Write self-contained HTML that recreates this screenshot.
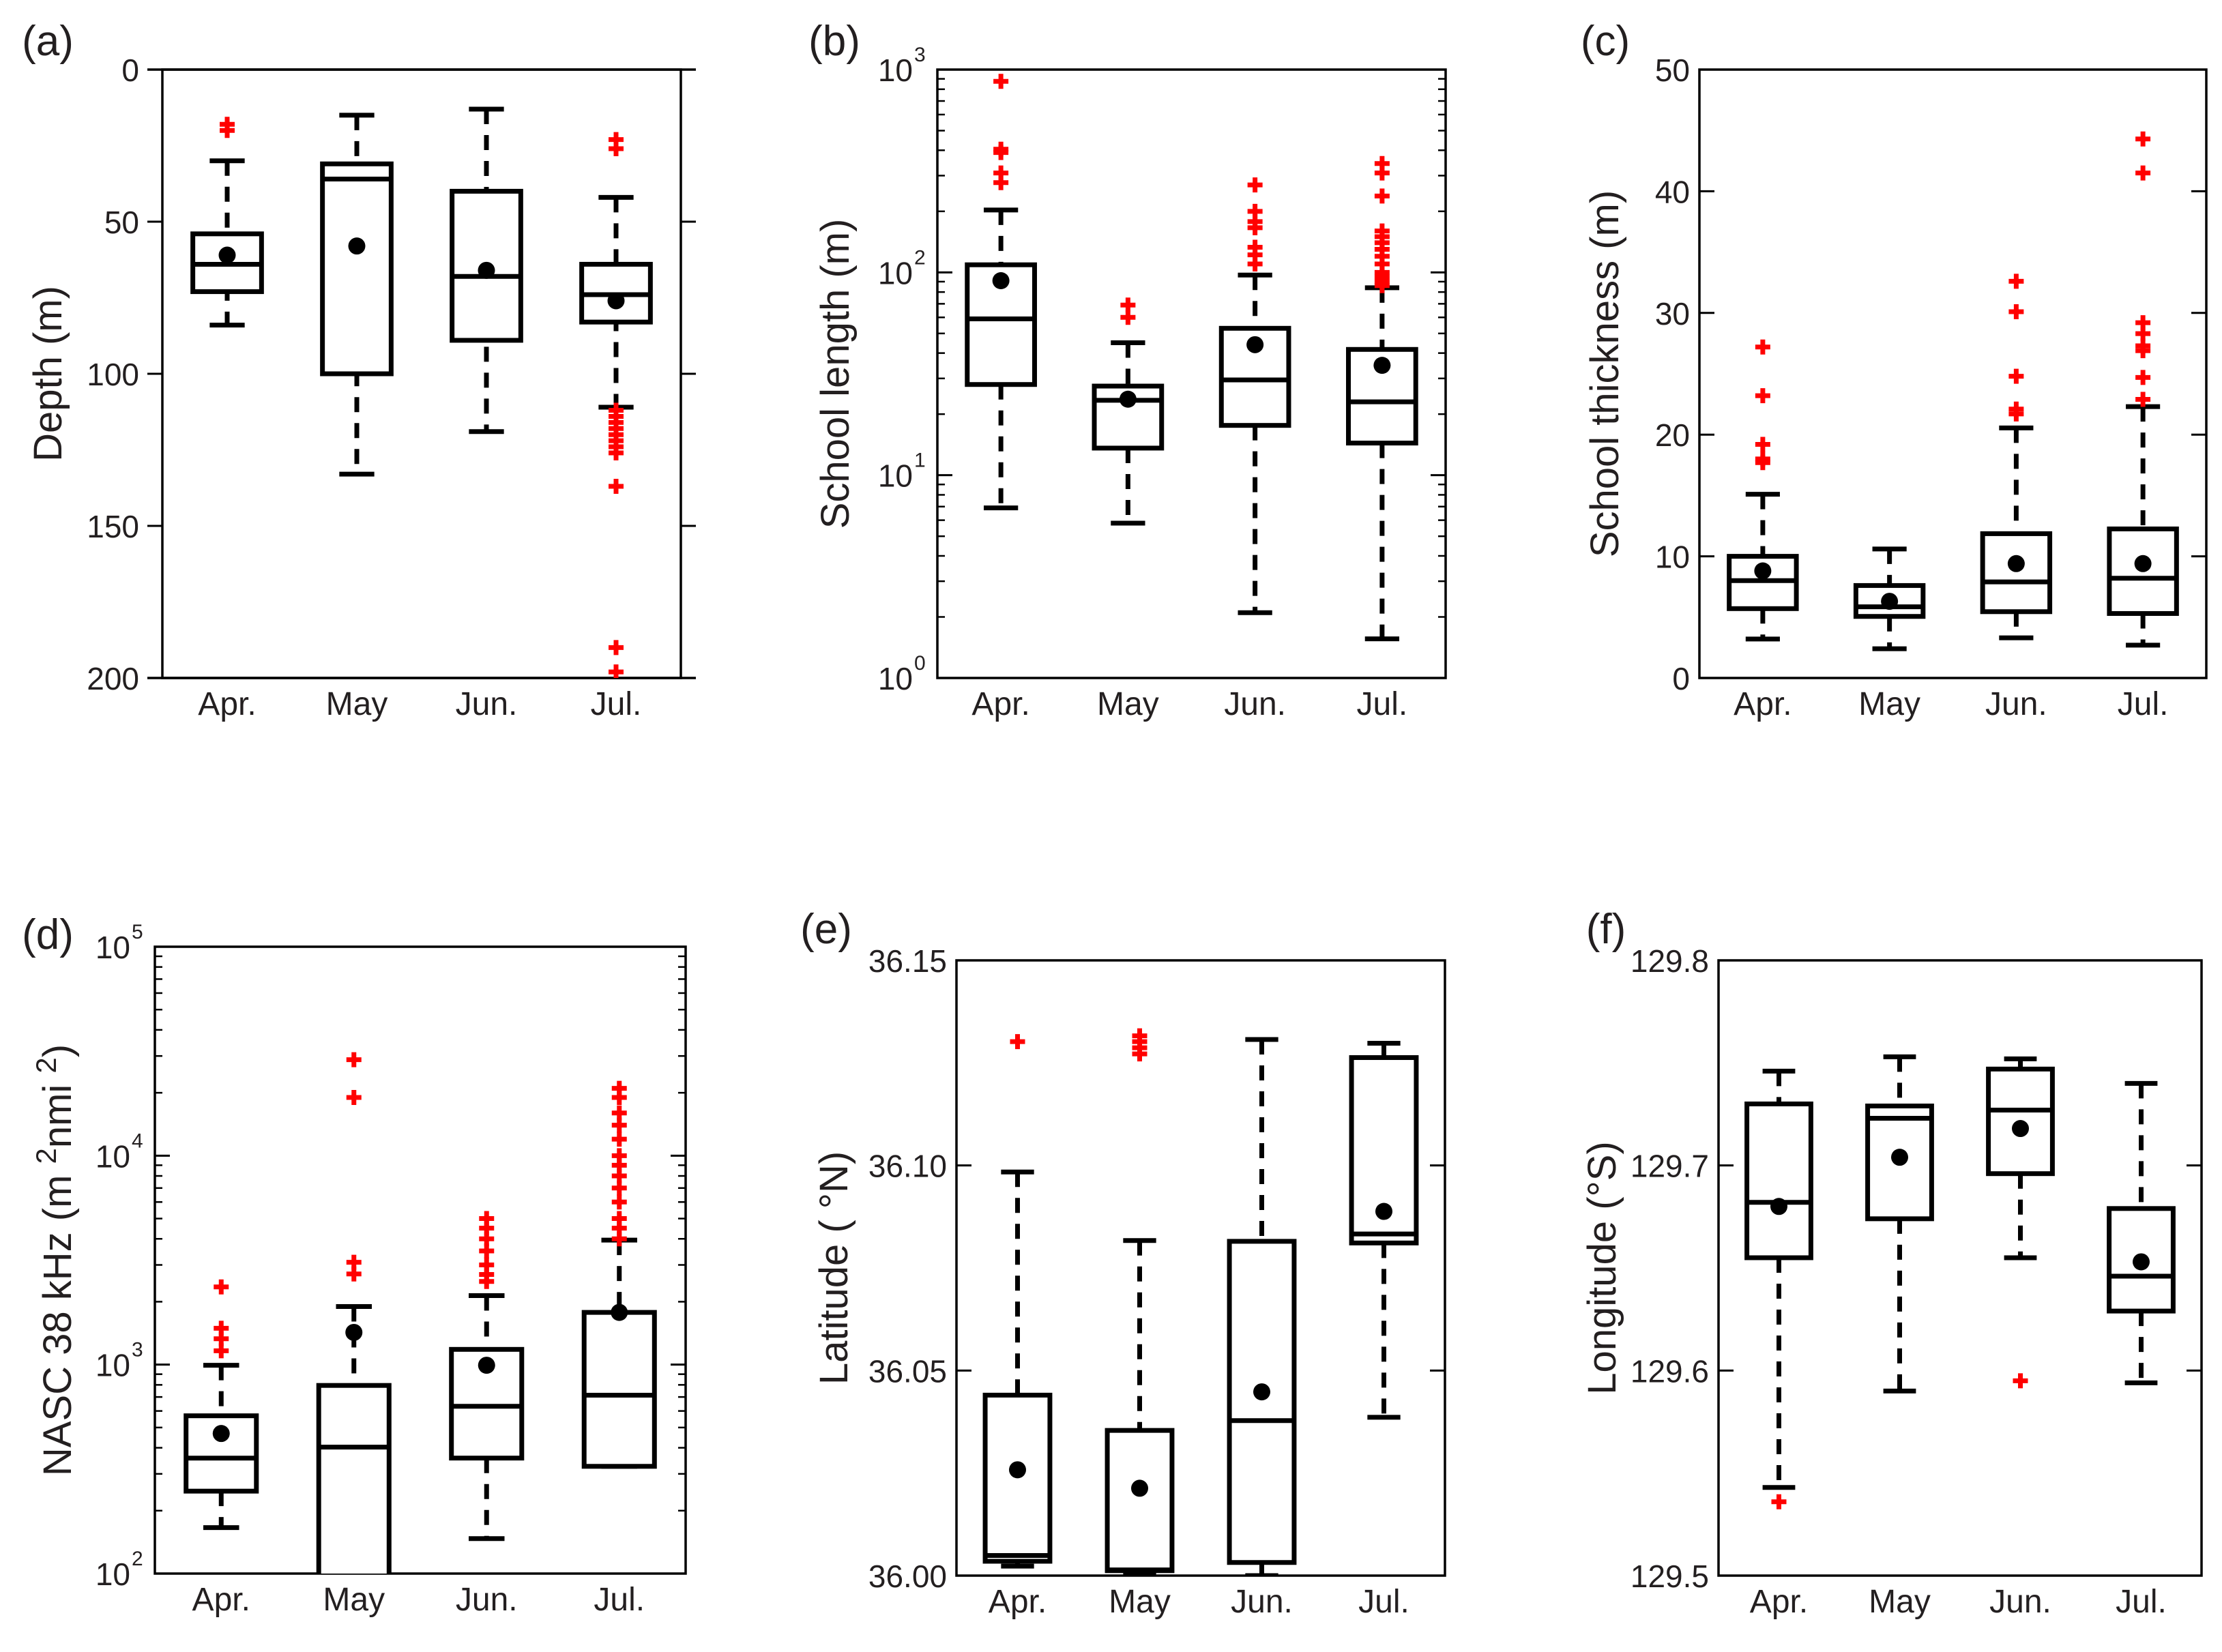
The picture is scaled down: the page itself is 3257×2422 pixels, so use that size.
<!DOCTYPE html>
<html><head><meta charset="utf-8"><title>School statistics by month</title>
<style>
html,body{margin:0;padding:0;background:#fff;}
svg{display:block;}
text{font-family:"Liberation Sans",sans-serif;fill:#231f20;}
</style></head>
<body>
<svg id="fig" xmlns="http://www.w3.org/2000/svg" width="3257" height="2422" viewBox="0 0 3257 2422"></svg>
<script>
// ---------- data ----------
const categories = ["Apr.","May","Jun.","Jul."];

// (a) Depth (m)
const aLo   = [84, 133, 119, 111];
const aQ1   = [54, 31, 40, 64];
const aMed  = [64, 36, 68, 74];
const aQ3   = [73, 100, 89, 83];
const aHi   = [30, 15, 13, 42];
const aMean = [61, 58, 66, 76];
const aOut  = [[18,20],[],[],[23,26,112,114,116,118,120,122,124,126,137,190,198]];
const aTicks = [0,50,100,150,200];

// (b) School length (m)
const bLo   = [6.9, 5.8, 2.1, 1.56];
const bQ1   = [28, 13.6, 17.6, 14.4];
const bMed  = [59, 23.4, 29.5, 23];
const bQ3   = [109, 27.5, 53, 41.7];
const bHi   = [203, 45, 97, 84];
const bMean = [91, 23.7, 44, 34.8];
const bOut  = [[875,405,390,309,277],[69,60],[270,200,178,166,133,122,110],[344,309,238,160,150,140,130,120,110,100,95,90,86]];
const bTicks = [0,1,2,3];

// (c) School thickness (m)
const cLo   = [3.2, 2.4, 3.3, 2.7];
const cQ1   = [5.7, 5.06, 5.45, 5.3];
const cMed  = [8.0, 5.85, 7.9, 8.2];
const cQ3   = [10, 7.6, 11.86, 12.25];
const cHi   = [15.1, 10.6, 20.55, 22.3];
const cMean = [8.8, 6.3, 9.4, 9.4];
const cOut  = [[27.2,23.2,19.2,18,17.7],[],[32.6,30.1,24.8,22.1,21.7],[44.3,41.5,29.2,28.3,27.3,26.9,24.7,22.9]];
const cTicks = [0,10,20,30,40,50];

// (d) NASC 38 kHz
const dLo   = [166, 20, 147, 326];
const dQ1   = [248, 60, 357, 326];
const dMed  = [357, 403, 632, 714];
const dQ3   = [569, 795, 1183, 1778];
const dHi   = [993, 1897, 2140, 3944];
const dMean = [468, 1426, 993, 1778];
const dOut  = [[2355,1493,1330,1165],[28800,19000,3090,2716],[5000,4500,4000,3500,3000,2700,2500],[21000,19000,16000,14000,12000,10000,9000,8000,7000,6000,5000,4500,4000]];
const dTicks = [2,3,4,5];

// (e) Latitude
const eLo   = [36.0023, 36.0005, 36.0, 36.0386];
const eQ1   = [36.0035, 36.0012, 36.0032, 36.0811];
const eMed  = [36.0049, 36.0014, 36.0378, 36.0833];
const eQ3   = [36.044, 36.0354, 36.0815, 36.1263];
const eHi   = [36.0984, 36.0817, 36.1307, 36.1298];
const eMean = [36.0258, 36.0213, 36.0448, 36.0888];
const eOut  = [[36.1302],[36.1316,36.1302,36.1287,36.1272],[],[]];
const eTicks = ["36.00","36.05","36.10","36.15"];

// (f) Longitude
const fLo   = [129.543, 129.590, 129.655, 129.594];
const fQ1   = [129.655, 129.674, 129.696, 129.629];
const fMed  = [129.682, 129.723, 129.727, 129.646];
const fQ3   = [129.730, 129.729, 129.747, 129.679];
const fHi   = [129.746, 129.753, 129.752, 129.740];
const fMean = [129.680, 129.704, 129.718, 129.653];
const fOut  = [[129.536],[],[129.595],[]];
const fTicks = ["129.5","129.6","129.7","129.8"];

// ---------- drawing ----------
const NS = "http://www.w3.org/2000/svg";
const fig = document.getElementById("fig");
function mk(parent, tag, attrs){
  const el = document.createElementNS(NS, tag);
  for (const k in attrs) el.setAttribute(k, attrs[k]);
  parent.appendChild(el);
  return el;
}

function drawPanel(p, lo, q1, med, q3, hi, mean, outs){
  const g = mk(fig, "g", {});
  
  
  const ys = v => {
    let t = p.log ? (Math.log10(v) - p.lo)/(p.hi - p.lo) : (v - p.lo)/(p.hi - p.lo);
    return p.rev ? p.y0 + t*(p.y1-p.y0) : p.y1 - t*(p.y1-p.y0);
  };
  const step = (p.x1 - p.x0)/categories.length;
  const xs = i => p.x0 + (i+0.5)*step;
  const bw = step*0.53, cap = step*0.27;

  const cid = "clip-" + p.name;
  const cp = mk(g, "clipPath", {id: cid});
  mk(cp, "rect", {x:p.x0, y:p.y0-30, width:p.x1-p.x0, height:p.y1-p.y0+30});

  const tg = mk(g, "g", {});
  
  
  const dir = p.out ? -1 : 1;
  p.ticks.forEach((tv, k) => {
    const val = p.log ? Math.pow(10, tv) : parseFloat(tv);
    const y = ys(val);
    const t1 = mk(tg, "line", {x1:p.x0, x2:p.x0 + dir*22, y1:y, y2:y, stroke:"#000", "stroke-width":3});
    
    
    const t2 = mk(tg, "line", {x1:p.x1, x2:p.x1 - dir*22, y1:y, y2:y, stroke:"#000", "stroke-width":3});
    
    
    const lx = p.x0 - (p.out ? 34 : 14);
    if (p.log){
      const tx = mk(tg, "text", {x:lx-22, y:y+17, "text-anchor":"end", "font-size":46});
      tx.textContent = "10";
      
      
      const ex = mk(tg, "text", {x:lx-20, y:y-12, "text-anchor":"start", "font-size":30});
      ex.textContent = String(tv);
      
      
      if (k < p.ticks.length-1){
        for (let m=2; m<=9; m++){
          const ym = ys(Math.pow(10, tv)*m);
          mk(tg, "line", {x1:p.x0, x2:p.x0+11, y1:ym, y2:ym, stroke:"#000", "stroke-width":2.5});
          mk(tg, "line", {x1:p.x1, x2:p.x1-11, y1:ym, y2:ym, stroke:"#000", "stroke-width":2.5});
        }
      }
    } else {
      const tx = mk(tg, "text", {x:lx, y:y+17, "text-anchor":"end", "font-size":46});
      tx.textContent = String(tv);
      
      
    }
  });

  const fr = mk(g, "rect", {x:p.x0, y:p.y0, width:p.x1-p.x0, height:p.y1-p.y0, fill:"none", stroke:"#000", "stroke-width":3.5});
  
  
  if (p.out){
    mk(g, "line", {x1:p.x0-22, x2:p.x1+22, y1:p.y0, y2:p.y0, stroke:"#000", "stroke-width":3.5});
    mk(g, "line", {x1:p.x0-22, x2:p.x1+22, y1:p.y1, y2:p.y1, stroke:"#000", "stroke-width":3.5});
  }

  const bg = mk(g, "g", {"clip-path":"url(#"+cid+")"});
  categories.forEach((c, i) => {
    const x = xs(i);
    const box = mk(bg, "g", {});
    
    
    const sw = {stroke:"#000", "stroke-width":7, fill:"none"};
    const w1 = mk(box, "line", Object.assign({x1:x, x2:x, y1:ys(hi[i]), y2:ys(q3[i]), "stroke-dasharray":"22 16"}, sw));
    
    
    const w2 = mk(box, "line", Object.assign({x1:x, x2:x, y1:ys(q1[i]), y2:ys(lo[i]), "stroke-dasharray":"22 16"}, sw));
    
    
    const c1 = mk(box, "line", Object.assign({x1:x-cap/2, x2:x+cap/2, y1:ys(hi[i]), y2:ys(hi[i])}, sw));
    
    
    const c2 = mk(box, "line", Object.assign({x1:x-cap/2, x2:x+cap/2, y1:ys(lo[i]), y2:ys(lo[i])}, sw));
    
    
    const ya = ys(q1[i]), yb = ys(q3[i]);
    const r = mk(box, "rect", {x:x-bw/2, y:Math.min(ya,yb), width:bw, height:Math.abs(ya-yb), fill:"#fff", stroke:"#000", "stroke-width":7});
    
    
    const md = mk(box, "line", Object.assign({x1:x-bw/2, x2:x+bw/2, y1:ys(med[i]), y2:ys(med[i])}, sw));
    
    
    const mn = mk(box, "circle", {cx:x, cy:ys(mean[i]), r:12.5, fill:"#000"});
    
    
    outs[i].forEach(v => {
      const y = ys(v);
      const o = mk(box, "path", {d:`M${x-11},${y}H${x+11}M${x},${y-11}V${y+11}`, stroke:"#ff0000", "stroke-width":7, fill:"none"});
      
      
    });
  });

  categories.forEach((c, i) => {
    const t = mk(g, "text", {x:xs(i), y:p.y1 + 54, "text-anchor":"middle", "font-size":48});
    t.textContent = c;
    
    
  });

  const pl = mk(g, "text", {x:p.lx, y:p.ly + 21, "text-anchor":"middle", "font-size":62});
  pl.textContent = p.letter;
  
  

  const cy = (p.y0 + p.y1)/2;
  const yt = mk(g, "text", {x:p.tx, y:cy, "text-anchor":"middle", "font-size":58, transform:`rotate(-90 ${p.tx} ${cy}) translate(0 20)`});
  
  
  if (p.title === "NASC"){
    yt.appendChild(document.createTextNode("NASC 38 kHz (m "));
    const s1 = mk(yt, "tspan", {dy:-22, "font-size":42}); s1.textContent = "2";
    const s2 = mk(yt, "tspan", {dy:22}); s2.textContent = "nmi ";
    const s3 = mk(yt, "tspan", {dy:-22, "font-size":42}); s3.textContent = "2";
    const s4 = mk(yt, "tspan", {dy:22}); s4.textContent = ")";
  } else {
    yt.textContent = p.title;
  }
}

drawPanel({name:"panel-a-depth", x0:238, x1:998, y0:102, y1:994, lo:0, hi:200, rev:true, out:true, ticks:aTicks, letter:"(a)", lx:70, ly:60, tx:70, title:"Depth (m)"}, aLo, aQ1, aMed, aQ3, aHi, aMean, aOut);
drawPanel({name:"panel-b-length", x0:1374, x1:2119, y0:102, y1:994, lo:0, hi:3, log:true, ticks:bTicks, letter:"(b)", lx:1223, ly:60, tx:1224, title:"School length (m)"}, bLo, bQ1, bMed, bQ3, bHi, bMean, bOut);
drawPanel({name:"panel-c-thickness", x0:2491, x1:3234, y0:102, y1:994, lo:0, hi:50, ticks:cTicks, letter:"(c)", lx:2353, ly:60, tx:2352, title:"School thickness (m)"}, cLo, cQ1, cMed, cQ3, cHi, cMean, cOut);
drawPanel({name:"panel-d-nasc", x0:227, x1:1005, y0:1388, y1:2307, lo:2, hi:5, log:true, ticks:dTicks, letter:"(d)", lx:70, ly:1370, tx:84, title:"NASC"}, dLo, dQ1, dMed, dQ3, dHi, dMean, dOut);
drawPanel({name:"panel-e-latitude", x0:1402, x1:2118, y0:1408, y1:2310, lo:36.0, hi:36.15, ticks:eTicks, letter:"(e)", lx:1211, ly:1362, tx:1222, title:"Latitude ( °N)"}, eLo, eQ1, eMed, eQ3, eHi, eMean, eOut);
drawPanel({name:"panel-f-longitude", x0:2519, x1:3227, y0:1408, y1:2310, lo:129.5, hi:129.8, ticks:fTicks, letter:"(f)", lx:2354, ly:1362, tx:2348, title:"Longitude (°S)"}, fLo, fQ1, fMed, fQ3, fHi, fMean, fOut);
</script>
</body></html>
